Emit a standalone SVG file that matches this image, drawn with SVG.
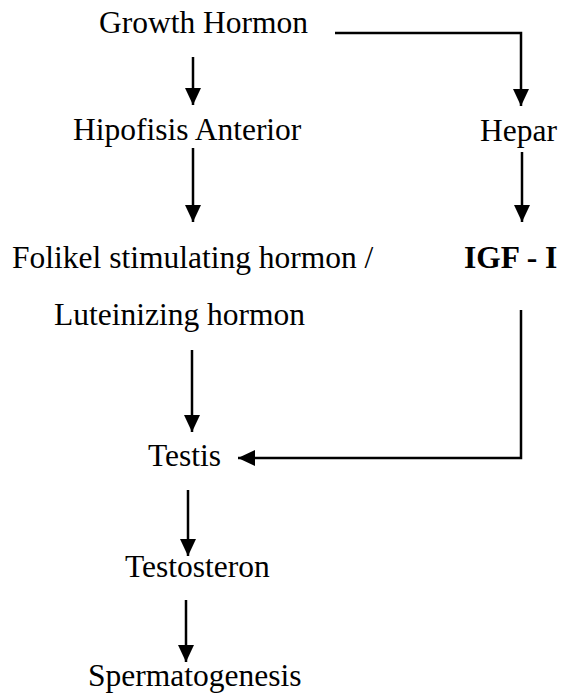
<svg xmlns="http://www.w3.org/2000/svg" width="566" height="697" viewBox="0 0 566 697">
<style>
text{font-family:"Liberation Serif","Times New Roman",serif;font-size:31.5px;fill:#000}
.b{font-weight:bold}
.c{fill:none;stroke:#000;stroke-width:2.5}
</style>
<defs>
<marker id="ah" markerUnits="userSpaceOnUse" markerWidth="17" markerHeight="16" refX="17" refY="8" orient="auto" viewBox="0 0 17 16">
<path d="M0,0 L17,8 L0,16 Z" fill="#000"/>
</marker>
</defs>
<rect width="566" height="697" fill="#fff"/>
<g id="connectors">
<path class="c" d="M193,57 V105" marker-end="url(#ah)"/>
<path class="c" d="M335,33 H521 V106" marker-end="url(#ah)"/>
<path class="c" d="M193,148 V222" marker-end="url(#ah)"/>
<path class="c" d="M522,152 V222" marker-end="url(#ah)"/>
<path class="c" d="M192,350 V432" marker-end="url(#ah)"/>
<path class="c" d="M521,310 V458 H238" marker-end="url(#ah)"/>
<path class="c" d="M188,490 V556" marker-end="url(#ah)"/>
<path class="c" d="M186,600 V662" marker-end="url(#ah)"/>
</g>
<g id="growth-hormon"><text x="99" y="33">Growth Hormon</text></g>
<g id="hipofisis"><text x="73" y="140">Hipofisis Anterior</text></g>
<g id="hepar"><text x="480" y="141">Hepar</text></g>
<g id="fsh-lh"><text x="12" y="268">Folikel stimulating hormon /</text><text x="54" y="325">Luteinizing hormon</text></g>
<g id="igf"><text class="b" x="464" y="268">IGF - I</text></g>
<g id="testis"><text x="148" y="466">Testis</text></g>
<g id="testosteron"><text x="125" y="577">Testosteron</text></g>
<g id="spermatogenesis"><text x="88" y="686">Spermatogenesis</text></g>
</svg>
